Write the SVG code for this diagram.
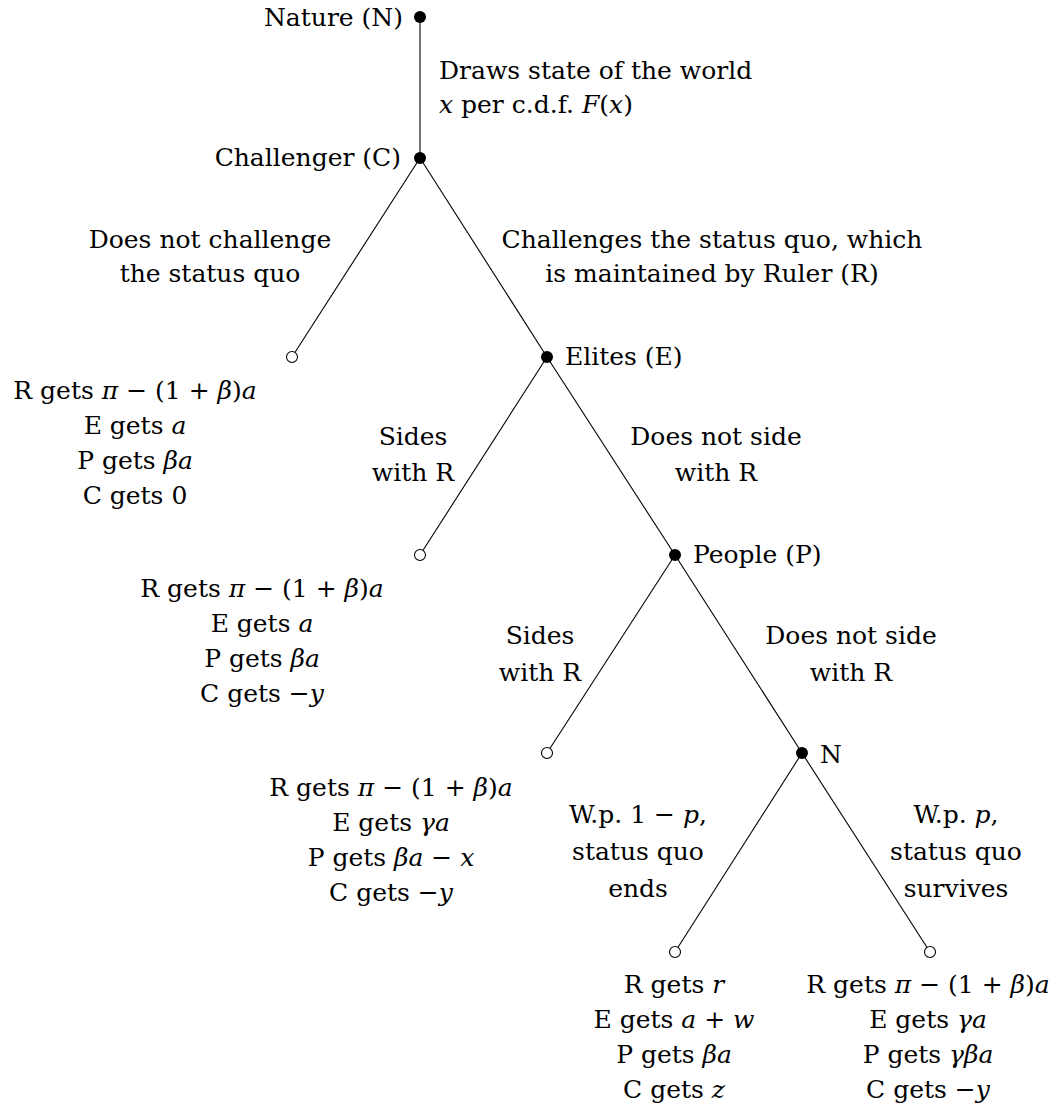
<svg xmlns="http://www.w3.org/2000/svg" width="1060" height="1112" viewBox="0 0 1060 1112">
<style>
text{font-family:"DejaVu Serif","Liberation Serif",serif;font-size:25px;fill:#000}
.c{text-anchor:middle}
.r{text-anchor:end}
.m{font-style:italic}
.edge{stroke:#000;stroke-width:1.1;fill:none}
.dec{fill:#000}
.leaf{fill:#fff;stroke:#000;stroke-width:1.1}
</style>
<rect width="1060" height="1112" fill="#fff"/>
<g id="connectors">
<line class="edge" x1="420" y1="17" x2="420" y2="158"/>
<line class="edge" x1="420" y1="158" x2="292" y2="357"/>
<line class="edge" x1="420" y1="158" x2="547" y2="357"/>
<line class="edge" x1="547" y1="357" x2="420" y2="555"/>
<line class="edge" x1="547" y1="357" x2="675" y2="555"/>
<line class="edge" x1="675" y1="555" x2="547" y2="753"/>
<line class="edge" x1="675" y1="555" x2="802" y2="753"/>
<line class="edge" x1="802" y1="753" x2="675" y2="952"/>
<line class="edge" x1="802" y1="753" x2="930" y2="952"/>
</g>
<g id="edge-labels">
<text x="439" y="79">Draws state of the world</text>
<text x="439" y="113"><tspan class="m">x</tspan> per c.d.f. <tspan class="m">F</tspan>(<tspan class="m">x</tspan>)</text>
<text class="c" x="210" y="248">Does not challenge</text>
<text class="c" x="210" y="282">the status quo</text>
<text class="c" x="712" y="248">Challenges the status quo, which</text>
<text class="c" x="712" y="282">is maintained by Ruler (R)</text>
<text class="c" x="413" y="445">Sides</text>
<text class="c" x="413" y="481">with R</text>
<text class="c" x="716" y="445">Does not side</text>
<text class="c" x="716" y="481">with R</text>
<text class="c" x="540" y="644">Sides</text>
<text class="c" x="540" y="681">with R</text>
<text class="c" x="851" y="644">Does not side</text>
<text class="c" x="851" y="681">with R</text>
<text class="c" x="638" y="823">W.p. 1 − <tspan class="m">p</tspan>,</text>
<text class="c" x="638" y="860">status quo</text>
<text class="c" x="638" y="897">ends</text>
<text class="c" x="956" y="823">W.p. <tspan class="m">p</tspan>,</text>
<text class="c" x="956" y="860">status quo</text>
<text class="c" x="956" y="897">survives</text>
</g>
<g id="nature">
<circle class="dec" cx="420" cy="17" r="6"/>
<text class="r" x="403" y="26">Nature (N)</text>
</g>
<g id="challenger">
<circle class="dec" cx="420" cy="158" r="6"/>
<text class="r" x="401" y="166">Challenger (C)</text>
</g>
<g id="elites">
<circle class="dec" cx="547" cy="357" r="6"/>
<text x="565" y="365">Elites (E)</text>
</g>
<g id="people">
<circle class="dec" cx="675" cy="555" r="6"/>
<text x="693" y="563">People (P)</text>
</g>
<g id="nature2">
<circle class="dec" cx="802" cy="753" r="6"/>
<text x="820" y="763">N</text>
</g>
<g id="leaf1">
<circle class="leaf" cx="292" cy="357" r="5.5"/>
<text class="c" x="135" y="399">R gets <tspan class="m">π</tspan> − (1 + <tspan class="m">β</tspan>)<tspan class="m">a</tspan></text>
<text class="c" x="135" y="434">E gets <tspan class="m">a</tspan></text>
<text class="c" x="135" y="469">P gets <tspan class="m">βa</tspan></text>
<text class="c" x="135" y="504">C gets 0</text>
</g>
<g id="leaf2">
<circle class="leaf" cx="420" cy="555" r="5.5"/>
<text class="c" x="262" y="597">R gets <tspan class="m">π</tspan> − (1 + <tspan class="m">β</tspan>)<tspan class="m">a</tspan></text>
<text class="c" x="262" y="632">E gets <tspan class="m">a</tspan></text>
<text class="c" x="262" y="667">P gets <tspan class="m">βa</tspan></text>
<text class="c" x="262" y="702">C gets −<tspan class="m">y</tspan></text>
</g>
<g id="leaf3">
<circle class="leaf" cx="547" cy="753" r="5.5"/>
<text class="c" x="391" y="796">R gets <tspan class="m">π</tspan> − (1 + <tspan class="m">β</tspan>)<tspan class="m">a</tspan></text>
<text class="c" x="391" y="831">E gets <tspan class="m">γa</tspan></text>
<text class="c" x="391" y="866">P gets <tspan class="m">βa</tspan> − <tspan class="m">x</tspan></text>
<text class="c" x="391" y="901">C gets −<tspan class="m">y</tspan></text>
</g>
<g id="leaf4">
<circle class="leaf" cx="675" cy="952" r="5.5"/>
<text class="c" x="674" y="993">R gets <tspan class="m">r</tspan></text>
<text class="c" x="674" y="1028">E gets <tspan class="m">a</tspan> + <tspan class="m">w</tspan></text>
<text class="c" x="674" y="1063">P gets <tspan class="m">βa</tspan></text>
<text class="c" x="674" y="1098">C gets <tspan class="m">z</tspan></text>
</g>
<g id="leaf5">
<circle class="leaf" cx="930" cy="952" r="5.5"/>
<text class="c" x="928" y="993">R gets <tspan class="m">π</tspan> − (1 + <tspan class="m">β</tspan>)<tspan class="m">a</tspan></text>
<text class="c" x="928" y="1028">E gets <tspan class="m">γa</tspan></text>
<text class="c" x="928" y="1063">P gets <tspan class="m">γβa</tspan></text>
<text class="c" x="928" y="1098">C gets −<tspan class="m">y</tspan></text>
</g>
</svg>
